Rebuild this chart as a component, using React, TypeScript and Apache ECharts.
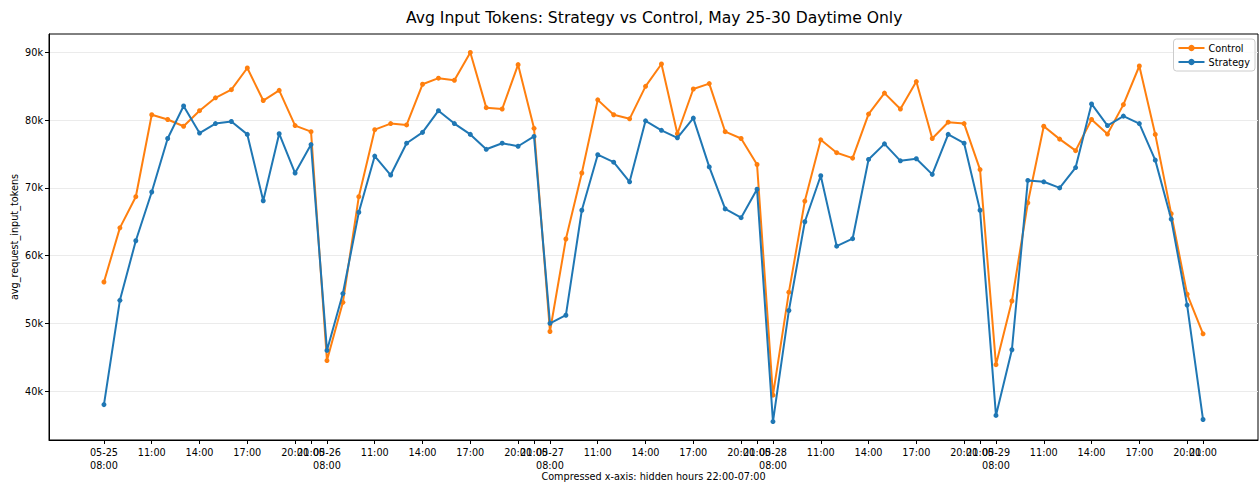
import React, { useEffect, useRef } from "react";
import * as echarts from "echarts";

const days = ["05-25", "05-26", "05-27", "05-28", "05-29"];
const hours = [8, 9, 10, 11, 12, 13, 14, 15, 16, 17, 18, 19, 20, 21];
const tickHourOffsets = [0, 3, 6, 9, 12, 13];

const controlValues = [
  56.1, 64.1, 68.7, 80.8, 80.1, 79.1, 81.4, 83.3, 84.5, 87.7, 82.9, 84.4, 79.2, 78.3,
  44.5, 53.1, 68.7, 78.6, 79.5, 79.3, 85.3, 86.2, 85.9, 90.0, 81.85, 81.65, 88.2, 78.8,
  48.8, 62.45, 72.2, 83.0, 80.8, 80.2, 85.0, 88.3, 78.0, 84.6, 85.4, 78.3, 77.3, 73.45,
  39.4, 54.6, 68.05, 77.1, 75.2, 74.4, 80.9, 84.0, 81.65, 85.7, 77.3, 79.7, 79.5, 72.7,
  43.9, 53.3, 67.8, 79.1, 77.2, 75.5, 80.1, 77.95, 82.3, 88.0, 77.9, 66.2, 54.3, 48.45,
];

const strategyValues = [
  38.0, 53.4, 62.2, 69.4, 77.3, 82.1, 78.1, 79.5, 79.8, 77.9, 68.1, 78.0, 72.2, 76.4,
  46.0, 54.4, 66.4, 74.7, 71.9, 76.6, 78.2, 81.4, 79.5, 77.9, 75.7, 76.6, 76.15, 77.6,
  50.0, 51.2, 66.7, 74.9, 73.8, 70.9, 79.9, 78.5, 77.4, 80.3, 73.1, 66.9, 65.6, 69.8,
  35.5, 51.9, 65.0, 71.8, 61.4, 62.5, 74.2, 76.5, 74.0, 74.3, 72.0, 77.9, 76.6, 66.7,
  36.4, 46.1, 71.1, 70.9, 70.0, 73.0, 82.4, 79.2, 80.6, 79.5, 74.1, 65.4, 52.7, 35.8,
];

const yTicks = [40000, 50000, 60000, 70000, 80000, 90000];

const perDay = hours.length;
const xTicks: number[] = [];
days.forEach((_, d) => tickHourOffsets.forEach((o) => xTicks.push(d * perDay + o)));
// ticks that ECharts would drop as overlapping the last label: drawn on a second axis
const xTicksExtra = [xTicks[xTicks.length - 2]];
const xTicksMain = xTicks.filter((t) => !xTicksExtra.includes(t));

const toPairs = (vals: number[]) => vals.map((v, i) => [i, v * 1000]);

export default function App() {
  const ref = useRef<HTMLDivElement>(null);
  useEffect(() => {
    if (!ref.current) return;
    const chart = echarts.init(ref.current, undefined, { renderer: "svg" });
    const n = controlValues.length;
    const xPad = (n - 1) * 0.05;
    const all = controlValues.concat(strategyValues).map((v) => v * 1000);
    const yMin = Math.min(...all);
    const yMax = Math.max(...all);
    const yPad = (yMax - yMin) * 0.05;
    const font = "DejaVu Sans";
    const fmt = (v: number) => {
      const idx = Math.round(v);
      const d = Math.floor(idx / perDay);
      const h = hours[idx % perDay];
      const hs = (h < 10 ? "0" : "") + h + ":00";
      return idx % perDay === 0 ? days[d] + "\n" + hs : hs;
    };
    const labelStyle = {
      margin: 6,
      hideOverlap: false,
      fontFamily: font,
      fontSize: 9.7,
      lineHeight: 13,
      color: "#000",
      formatter: fmt,
    };
    chart.setOption({
      animation: false,
      textStyle: { fontFamily: font },
      title: {
        text: "Avg Input Tokens: Strategy vs Control, May 25-30 Daytime Only",
        left: 401,
        top: 5,
        textStyle: { fontFamily: font, fontSize: 15.6, fontWeight: "normal", color: "#000" },
      },
      legend: {
        orient: "vertical",
        right: 4,
        top: 39,
        data: ["Control", "Strategy"],
        itemWidth: 26,
        itemHeight: 8,
        itemGap: 4,
        padding: [4, 5, 4, 4],
        borderColor: "#cccccc",
        borderWidth: 1,
        borderRadius: 3,
        backgroundColor: "rgba(255,255,255,0.8)",
        textStyle: { fontFamily: font, fontSize: 9.7, color: "#000", padding: [0, 0, 0, -1] },
      },
      grid: {
        left: 49,
        right: 1,
        top: 34,
        bottom: 45,
        show: true,
        borderColor: "#000",
        borderWidth: 1,
        backgroundColor: "transparent",
        containLabel: false,
        outerBoundsMode: "none",
      },
      xAxis: [
        {
          type: "value",
          min: -xPad,
          max: n - 1 + xPad,
          name: "Compressed x-axis: hidden hours 22:00-07:00",
          nameLocation: "middle",
          nameGap: 31,
          nameMoveOverlap: false,
          nameTextStyle: { fontFamily: font, fontSize: 9.7, color: "#000" },
          axisLine: { show: true, onZero: false, lineStyle: { color: "#000", width: 1 } },
          axisTick: { show: true, length: 4, customValues: xTicksMain, lineStyle: { color: "#000" } },
          splitLine: { show: false },
          axisLabel: { ...labelStyle, customValues: xTicksMain, showMinLabel: true, showMaxLabel: true },
        },
        {
          type: "value",
          position: "bottom",
          min: -xPad,
          max: n - 1 + xPad,
          axisLine: { show: false, onZero: false },
          axisTick: { show: true, length: 4, customValues: xTicksExtra, lineStyle: { color: "#000" } },
          splitLine: { show: false },
          axisLabel: { ...labelStyle, customValues: xTicksExtra, showMinLabel: true, showMaxLabel: true },
        },
      ],
      yAxis: {
        type: "value",
        min: yMin - yPad,
        max: yMax + yPad,
        name: "avg_request_input_tokens",
        nameLocation: "middle",
        nameGap: 30,
        nameMoveOverlap: false,
        nameTextStyle: { fontFamily: font, fontSize: 9.7, color: "#000" },
        axisLine: { show: true, onZero: false, lineStyle: { color: "#000", width: 1 } },
        axisTick: { show: true, length: 4, customValues: yTicks, lineStyle: { color: "#000" } },
        axisLabel: {
          customValues: yTicks,
          margin: 6,
          fontFamily: font,
          fontSize: 9.7,
          color: "#000",
          formatter: (v: number) => Math.round(v / 1000) + "k",
        },
        splitLine: { show: true, lineStyle: { color: "#ebebeb", width: 1 } },
      },
      series: [
        {
          name: "Control",
          type: "line",
          xAxisIndex: 0,
          data: toPairs(controlValues),
          symbol: "circle",
          symbolSize: 5,
          itemStyle: { color: "#ff7f0e" },
          lineStyle: { color: "#ff7f0e", width: 2 },
          z: 2,
        },
        {
          name: "Strategy",
          type: "line",
          xAxisIndex: 0,
          data: toPairs(strategyValues),
          symbol: "circle",
          symbolSize: 5,
          itemStyle: { color: "#1f77b4" },
          lineStyle: { color: "#1f77b4", width: 2 },
          z: 3,
        },
      ],
    });
    return () => chart.dispose();
  }, []);
  return (
    <div
      ref={ref}
      style={{ position: "fixed", left: 0, top: 0, width: 1259, height: 485, background: "#fff" }}
    />
  );
}
